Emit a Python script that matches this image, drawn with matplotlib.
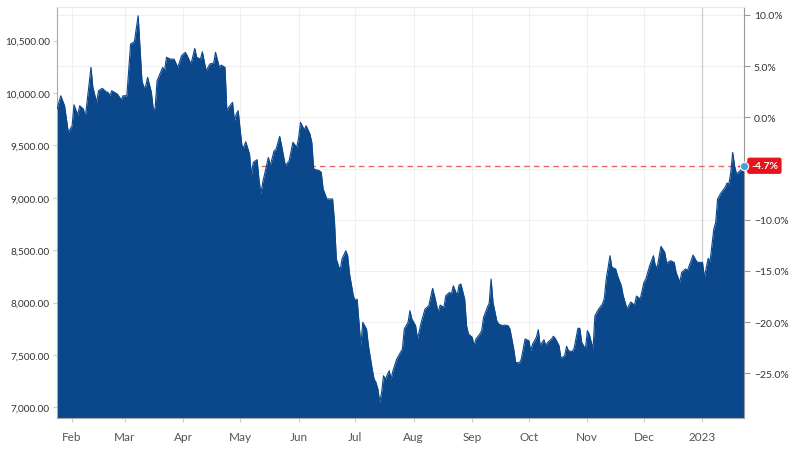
import matplotlib
matplotlib.use("Agg")
import matplotlib.pyplot as plt
import matplotlib.ticker as mticker
import pandas as pd

# daily closes (Jan 2022 - Jan 2023)
dates = [
    "2022-01-24", "2022-01-26", "2022-01-28", "2022-01-30", "2022-02-01", "2022-02-02",
    "2022-02-04", "2022-02-05", "2022-02-07", "2022-02-08", "2022-02-11", "2022-02-12",
    "2022-02-14", "2022-02-15", "2022-02-17", "2022-02-19", "2022-02-20", "2022-02-21",
    "2022-02-22", "2022-02-25", "2022-02-27", "2022-02-28", "2022-03-02", "2022-03-04",
    "2022-03-06", "2022-03-08", "2022-03-10", "2022-03-11", "2022-03-12", "2022-03-13",
    "2022-03-15", "2022-03-16", "2022-03-17", "2022-03-18", "2022-03-21", "2022-03-22",
    "2022-03-23", "2022-03-25", "2022-03-27", "2022-03-29", "2022-03-31", "2022-04-02",
    "2022-04-03", "2022-04-05", "2022-04-07", "2022-04-08", "2022-04-10", "2022-04-11",
    "2022-04-13", "2022-04-15", "2022-04-17", "2022-04-18", "2022-04-20", "2022-04-21",
    "2022-04-23", "2022-04-24", "2022-04-25", "2022-04-27", "2022-04-28", "2022-04-29",
    "2022-04-30", "2022-05-01", "2022-05-02", "2022-05-03", "2022-05-04", "2022-05-06",
    "2022-05-07", "2022-05-08", "2022-05-10", "2022-05-11", "2022-05-12", "2022-05-13",
    "2022-05-15", "2022-05-16", "2022-05-17", "2022-05-19", "2022-05-20", "2022-05-22",
    "2022-05-23", "2022-05-25", "2022-05-27", "2022-05-29", "2022-05-31", "2022-06-01",
    "2022-06-02", "2022-06-04", "2022-06-05", "2022-06-07", "2022-06-08", "2022-06-09",
    "2022-06-12", "2022-06-13", "2022-06-14", "2022-06-16", "2022-06-19", "2022-06-20",
    "2022-06-21", "2022-06-23", "2022-06-24", "2022-06-26", "2022-06-27", "2022-06-28",
    "2022-06-30", "2022-07-01", "2022-07-02", "2022-07-03", "2022-07-04", "2022-07-05",
    "2022-07-07", "2022-07-08", "2022-07-10", "2022-07-11", "2022-07-12", "2022-07-13",
    "2022-07-14", "2022-07-15", "2022-07-16", "2022-07-17", "2022-07-19", "2022-07-20",
    "2022-07-21", "2022-07-23", "2022-07-25", "2022-07-26", "2022-07-27", "2022-07-29",
    "2022-07-30", "2022-07-31", "2022-08-02", "2022-08-03", "2022-08-05", "2022-08-07",
    "2022-08-09", "2022-08-11", "2022-08-12", "2022-08-14", "2022-08-15", "2022-08-17",
    "2022-08-18", "2022-08-20", "2022-08-21", "2022-08-22", "2022-08-24", "2022-08-25",
    "2022-08-26", "2022-08-28", "2022-08-29", "2022-08-30", "2022-09-01", "2022-09-02",
    "2022-09-03", "2022-09-05", "2022-09-06", "2022-09-07", "2022-09-09", "2022-09-10",
    "2022-09-11", "2022-09-12", "2022-09-14", "2022-09-15", "2022-09-17", "2022-09-18",
    "2022-09-20", "2022-09-21", "2022-09-23", "2022-09-24", "2022-09-26", "2022-09-27",
    "2022-09-29", "2022-10-01", "2022-10-02", "2022-10-03", "2022-10-05", "2022-10-06",
    "2022-10-07", "2022-10-09", "2022-10-10", "2022-10-11", "2022-10-13", "2022-10-14",
    "2022-10-15", "2022-10-17", "2022-10-18", "2022-10-20", "2022-10-21", "2022-10-22",
    "2022-10-24", "2022-10-25", "2022-10-27", "2022-10-28", "2022-10-29", "2022-10-31",
    "2022-11-01", "2022-11-02", "2022-11-04", "2022-11-05", "2022-11-07", "2022-11-09",
    "2022-11-10", "2022-11-11", "2022-11-13", "2022-11-14", "2022-11-16", "2022-11-17",
    "2022-11-19", "2022-11-20", "2022-11-22", "2022-11-24", "2022-11-26", "2022-11-27",
    "2022-11-29", "2022-12-01", "2022-12-02", "2022-12-04", "2022-12-06", "2022-12-07",
    "2022-12-08", "2022-12-10", "2022-12-12", "2022-12-13", "2022-12-15", "2022-12-17",
    "2022-12-18", "2022-12-20", "2022-12-21", "2022-12-23", "2022-12-24", "2022-12-25",
    "2022-12-27", "2022-12-29", "2022-12-30", "2023-01-01", "2023-01-02", "2023-01-04",
    "2023-01-05", "2023-01-07", "2023-01-08", "2023-01-09", "2023-01-11", "2023-01-13",
    "2023-01-14", "2023-01-15", "2023-01-16", "2023-01-17", "2023-01-18", "2023-01-19",
    "2023-01-20", "2023-01-21", "2023-01-23",
]
values = [
    9847, 9974, 9879, 9625, 9688, 9888, 9790, 9879, 9847, 9768, 10245, 10054,
    9911, 10022, 10045, 10012, 10007, 9974, 10022, 9990, 9936, 9974, 9974, 10468,
    10490, 10738, 10117, 10054, 10064, 10150, 10007, 9847, 9854, 10117, 10245, 10213,
    10341, 10324, 10324, 10245, 10356, 10388, 10356, 10277, 10426, 10341, 10324, 10394,
    10213, 10277, 10286, 10388, 10245, 10267, 10245, 9831, 9864, 9911, 9736, 9800,
    9831, 9656, 9497, 9482, 9535, 9418, 9218, 9339, 9364, 9179, 9036, 9148,
    9306, 9386, 9306, 9449, 9459, 9587, 9497, 9306, 9354, 9530, 9482, 9568,
    9720, 9650, 9688, 9609, 9530, 9275, 9259, 9243, 9084, 8989, 8989, 8781,
    8416, 8304, 8416, 8495, 8448, 8273, 8066, 8018, 8034, 7812, 7589, 7812,
    7748, 7589, 7366, 7271, 7239, 7176, 7049, 7144, 7302, 7271, 7350, 7271,
    7350, 7462, 7526, 7557, 7748, 7812, 7923, 7844, 7780, 7653, 7812, 7939,
    7971, 8136, 8066, 7907, 7977, 7955, 8066, 8098, 8082, 8161, 8066, 8168,
    8177, 8034, 7780, 7700, 7669, 7589, 7653, 7700, 7732, 7859, 7955, 7996,
    8225, 8003, 7828, 7796, 7780, 7786, 7780, 7748, 7557, 7430, 7424, 7462,
    7653, 7637, 7541, 7605, 7669, 7742, 7589, 7646, 7589, 7621, 7653, 7679,
    7659, 7589, 7468, 7494, 7583, 7541, 7532, 7564, 7755, 7755, 7621, 7557,
    7732, 7700, 7557, 7875, 7939, 7987, 8041, 8225, 8448, 8337, 8321, 8257,
    8161, 8066, 7939, 8006, 7977, 8063, 8034, 8194, 8225, 8352, 8448, 8352,
    8337, 8537, 8480, 8378, 8400, 8384, 8289, 8194, 8289, 8321, 8305, 8352,
    8454, 8390, 8384, 8384, 8241, 8423, 8390, 8702, 8766, 8989, 9052, 9100,
    9141, 9132, 9243, 9434, 9306, 9227, 9243, 9259, 9306,
]
base_value = 9768          # level that maps to 0.0% on the right axis
price_ticks = [7000, 7500, 8000, 8500, 9000, 9500, 10000, 10500]
pct_ticks = [10, 5, 0, -10, -15, -20, -25]
month_starts = ["2022-02-01", "2022-03-01", "2022-04-01", "2022-05-01", "2022-06-01",
                "2022-07-01", "2022-08-01", "2022-09-01", "2022-10-01", "2022-11-01",
                "2022-12-01", "2023-01-01"]
month_labels = ["Feb", "Mar", "Apr", "May", "Jun", "Jul", "Aug", "Sep", "Oct", "Nov",
                "Dec", "2023"]

plt.rcParams['font.family'] = ['Lato', 'DejaVu Sans']

BLUE = "#0a478b"
RED = "#e8141c"
y_lo, y_hi = 6899, 10821

x = pd.to_datetime(dates)
fig = plt.figure(figsize=(8, 4.52), dpi=100)
ax = fig.add_axes([0.07125, 0.073, 0.85875, 0.9093])

# grid (behind the area)
for p in pct_ticks + [-5]:
    ax.axhline(base_value * (1 + p / 100), color="#efefef", lw=0.8, zorder=0)
month_x = pd.to_datetime(month_starts)
for d in month_x[:-1]:
    ax.axvline(d, color="#efefef", lw=0.8, zorder=0)
ax.axvline(month_x[-1], color="#cfcfcf", lw=0.9, zorder=0)

# last-price dashed line, also behind the area
last = values[-1]
ax.axhline(last, color="#e4676b", lw=1.0, ls=(0, (4, 3)), zorder=1)

ax.fill_between(x, values, y_lo, color=BLUE, lw=0, zorder=2)
ax.plot(x, values, color=BLUE, lw=0.8, zorder=3)

ax.set_xlim(x[0], x[-1])
ax.set_ylim(y_lo, y_hi)
ax.set_yticks(price_ticks)
ax.yaxis.set_major_formatter(mticker.StrMethodFormatter("{x:,.2f}"))
ax.set_xticks(month_x)
ax.set_xticklabels(month_labels)
ax.tick_params(axis="y", length=3, color="#cccccc", labelsize=7.2, labelcolor="#333333", pad=2)
ax.tick_params(axis="x", length=3, color="#cccccc", labelsize=8.5, labelcolor="#555555", pad=6)

for side in ["left", "right", "bottom"]:
    ax.spines[side].set_color("#a8a8a8")
ax.spines["top"].set_color("#e8e8e8")

# percent axis on the right, tied to the same scale
ax2 = ax.twinx()
ax2.set_ylim((y_lo / base_value - 1) * 100, (y_hi / base_value - 1) * 100)
ax2.set_yticks(pct_ticks)
ax2.yaxis.set_major_formatter(mticker.StrMethodFormatter("{x:.1f}%"))
ax2.tick_params(axis="y", length=4, color="#999999", labelsize=7.5, labelcolor="#333333", pad=3)
for side in ["left", "right", "bottom", "top"]:
    ax2.spines[side].set_visible(False)
ax.spines["right"].set_color("#999999")

# change tag at the last point
chg = (last / base_value - 1) * 100
ax.plot(x[-1], last, marker="<", ms=10, color=RED, mec="none", clip_on=False, zorder=5)
ax.annotate(f"{chg:.1f}%", xy=(x[-1], last), xytext=(5, 0), textcoords="offset points",
            ha="left", va="center", color="white", fontsize=7.5, fontweight="bold",
            bbox=dict(boxstyle="round,pad=0.35,rounding_size=0.2", fc=RED, ec="none"),
            annotation_clip=False, zorder=6)
ax.plot(x[-1], last, "o", ms=6, color="#4a9fe0", mec="white", mew=0.8,
        clip_on=False, zorder=7)

fig.savefig("out.png", dpi=100)
